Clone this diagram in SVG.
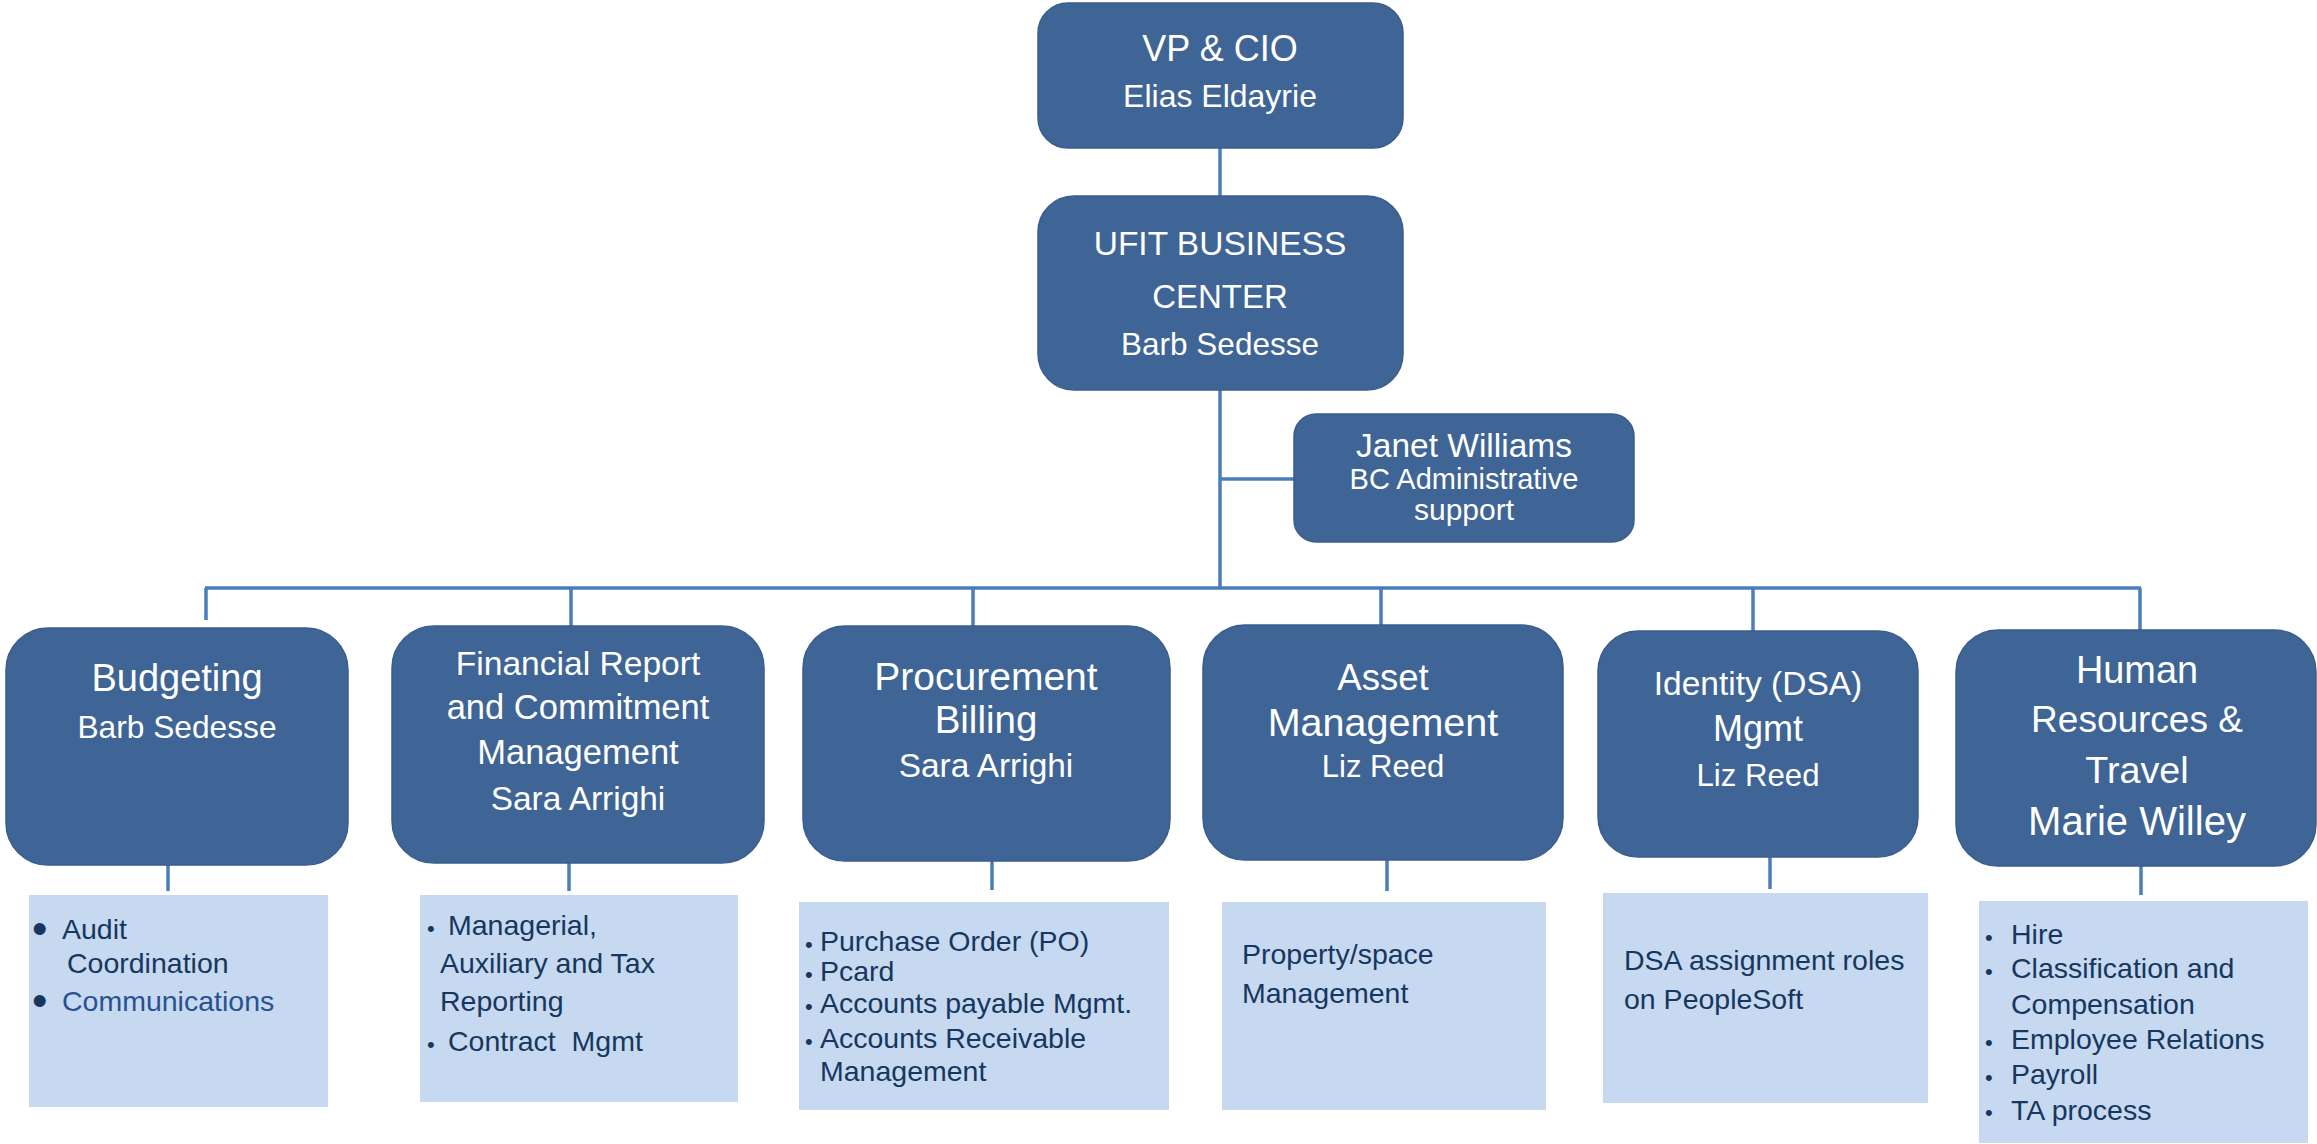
<svg xmlns="http://www.w3.org/2000/svg" width="2317" height="1144" viewBox="0 0 2317 1144">
<style>
.box{fill:#3F6496;stroke:#3A5D8C;stroke-width:1.5}
.det{fill:#C6D9F1}
.t{font-family:"Liberation Sans",Arial,sans-serif;fill:#FFFFFF;text-anchor:middle}
.d{font-family:"Liberation Sans",Arial,sans-serif;fill:#17375E;font-size:28.5px}
.b1{font-family:"Liberation Sans",Arial,sans-serif;fill:#17375E;font-size:44px}
.b2{font-family:"Liberation Sans",Arial,sans-serif;fill:#17375E;font-size:22px}
.c{fill:none;stroke:#4A7EBB;stroke-width:3.5}
</style>
<rect width="2317" height="1144" fill="#FFFFFF"/>
<g id="connectors">
<path class="c" d="M1220 148V196M1220 390V588M1220 479H1294M205 588H2141"/>
<path class="c" d="M206 588V620M571 588V626M973 588V626M1381 588V625M1753 588V631M2140 588V630"/>
<path class="c" d="M168 865V891M569 863V891M992 861V890M1387 860V891M1770 857V889M2141 866V895"/>
</g>
<g id="vp">
<rect class="box" x="1038" y="3" width="365" height="145" rx="30"/>
<text class="t" x="1220" y="61" font-size="36">VP &amp; CIO</text>
<text class="t" x="1220" y="107" font-size="32">Elias Eldayrie</text>
</g>
<g id="ufit">
<rect class="box" x="1038" y="196" width="365" height="194" rx="36"/>
<text class="t" x="1220" y="255" font-size="33.5">UFIT BUSINESS</text>
<text class="t" x="1220" y="308" font-size="33">CENTER</text>
<text class="t" x="1220" y="355" font-size="31.5">Barb Sedesse</text>
</g>
<g id="janet">
<rect class="box" x="1294" y="414" width="340" height="128" rx="22"/>
<text class="t" x="1464" y="457" font-size="33.5">Janet Williams</text>
<text class="t" x="1464" y="489" font-size="29">BC Administrative</text>
<text class="t" x="1464" y="520" font-size="30">support</text>
</g>
<g id="budgeting">
<rect class="box" x="6" y="628" width="342" height="237" rx="42"/>
<text class="t" x="177" y="691" font-size="38">Budgeting</text>
<text class="t" x="177" y="738" font-size="31.7">Barb Sedesse</text>
</g>
<g id="financial">
<rect class="box" x="392" y="626" width="372" height="237" rx="42"/>
<text class="t" x="578" y="675" font-size="33.6">Financial Report</text>
<text class="t" x="578" y="719" font-size="34.5">and Commitment</text>
<text class="t" x="578" y="764" font-size="34.5">Management</text>
<text class="t" x="578" y="810" font-size="33.4">Sara Arrighi</text>
</g>
<g id="procurement">
<rect class="box" x="803" y="626" width="367" height="235" rx="42"/>
<text class="t" x="986" y="690" font-size="39">Procurement</text>
<text class="t" x="986" y="733" font-size="38.5">Billing</text>
<text class="t" x="986" y="777" font-size="33.4">Sara Arrighi</text>
</g>
<g id="asset">
<rect class="box" x="1203" y="625" width="360" height="235" rx="42"/>
<text class="t" x="1383" y="690" font-size="36.5">Asset</text>
<text class="t" x="1383" y="736" font-size="39.5">Management</text>
<text class="t" x="1383" y="777" font-size="31">Liz Reed</text>
</g>
<g id="identity">
<rect class="box" x="1598" y="631" width="320" height="226" rx="40"/>
<text class="t" x="1758" y="695" font-size="33.5">Identity (DSA)</text>
<text class="t" x="1758" y="741" font-size="36">Mgmt</text>
<text class="t" x="1758" y="786" font-size="31.2">Liz Reed</text>
</g>
<g id="hr">
<rect class="box" x="1956" y="630" width="360" height="236" rx="42"/>
<text class="t" x="2137" y="683" font-size="37.9">Human</text>
<text class="t" x="2137" y="732" font-size="37">Resources &amp;</text>
<text class="t" x="2137" y="783" font-size="37.7">Travel</text>
<text class="t" x="2137" y="835" font-size="40">Marie Willey</text>
</g>
<g id="budgeting-details">
<rect class="det" x="29" y="895" width="299" height="212"/>
<text class="b1" x="32" y="944">•</text>
<text class="d" x="62" y="939">Audit</text>
<text class="d" x="67" y="973">Coordination</text>
<text class="b1" x="32" y="1016">•</text>
<text class="d" x="62" y="1011" style="fill:#2A5290">Communications</text>
</g>
<g id="financial-details">
<rect class="det" x="420" y="895" width="318" height="207"/>
<text class="b2" x="427" y="936">•</text>
<text class="d" x="448" y="935">Managerial,</text>
<text class="d" x="440" y="973">Auxiliary and Tax</text>
<text class="d" x="440" y="1011">Reporting</text>
<text class="b2" x="427" y="1052">•</text>
<text class="d" x="448" y="1051" style="white-space:pre">Contract  Mgmt</text>
</g>
<g id="procurement-details">
<rect class="det" x="799" y="902" width="370" height="208"/>
<text class="b2" x="805" y="952">•</text>
<text class="d" x="820" y="951">Purchase Order (PO)</text>
<text class="b2" x="805" y="982">•</text>
<text class="d" x="820" y="981">Pcard</text>
<text class="b2" x="805" y="1014">•</text>
<text class="d" x="820" y="1013">Accounts payable Mgmt.</text>
<text class="b2" x="805" y="1049">•</text>
<text class="d" x="820" y="1048">Accounts Receivable</text>
<text class="d" x="820" y="1081">Management</text>
</g>
<g id="asset-details">
<rect class="det" x="1222" y="902" width="324" height="208"/>
<text class="d" x="1242" y="964">Property/space</text>
<text class="d" x="1242" y="1003">Management</text>
</g>
<g id="identity-details">
<rect class="det" x="1603" y="893" width="325" height="210"/>
<text class="d" x="1624" y="970">DSA assignment roles</text>
<text class="d" x="1624" y="1009">on PeopleSoft</text>
</g>
<g id="hr-details">
<rect class="det" x="1979" y="901" width="329" height="242"/>
<text class="b2" x="1985" y="945">•</text>
<text class="d" x="2011" y="944">Hire</text>
<text class="b2" x="1985" y="979">•</text>
<text class="d" x="2011" y="978">Classification and</text>
<text class="d" x="2011" y="1014">Compensation</text>
<text class="b2" x="1985" y="1050">•</text>
<text class="d" x="2011" y="1049">Employee Relations</text>
<text class="b2" x="1985" y="1085">•</text>
<text class="d" x="2011" y="1084">Payroll</text>
<text class="b2" x="1985" y="1120">•</text>
<text class="d" x="2011" y="1120">TA process</text>
</g>
</svg>
